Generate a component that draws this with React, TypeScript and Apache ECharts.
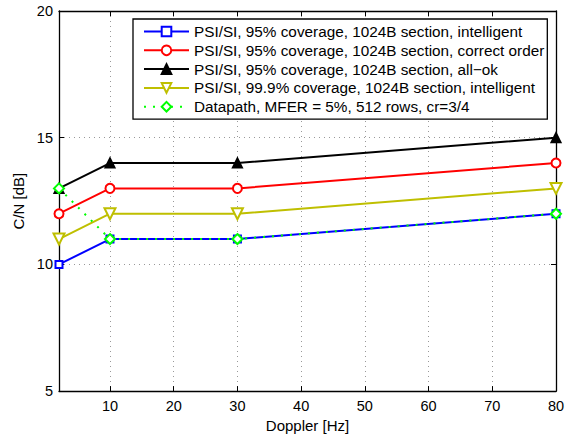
import React, { useEffect, useRef } from "react";
import * as echarts from "echarts";

const doppler = [2, 10, 30, 80];
const psi95Intelligent = [10, 11, 11, 12];
const psi95CorrectOrder = [12, 13, 13, 14];
const psi95AllOk = [13, 14, 14, 15];
const psi999Intelligent = [11, 12, 12, 13];
const datapath = [13, 11, 11, 12];
const xTickValues = [10, 20, 30, 40, 50, 60, 70, 80];
const xMin = 2;
const xMax = 80;
const yMin = 5;
const yMax = 20;
const yInterval = 5;

const seriesNames = [
  "PSI/SI, 95% coverage, 1024B section, intelligent",
  "PSI/SI, 95% coverage, 1024B section, correct order",
  "PSI/SI, 95% coverage, 1024B section, all\u2212ok",
  "PSI/SI, 99.9% coverage, 1024B section, intelligent",
  "Datapath, MFER = 5%, 512 rows, cr=3/4",
];

const FONT = "'Liberation Sans', Arial, Helvetica, sans-serif";

function pairs(ys: number[]) {
  return doppler.map((x, i) => [x, ys[i]]);
}

export default function App() {
  const ref = useRef<HTMLDivElement>(null);
  useEffect(() => {
    if (!ref.current) return;
    const chart = echarts.init(ref.current, undefined, { renderer: "svg" });
    const gridLine = { show: true, lineStyle: { color: "#999", type: [1, 4] as any, width: 1 } };
    const commonAxisLine = { show: true, lineStyle: { color: "#000", width: 1.3 } };
    const mk = (
      name: string,
      ys: number[],
      color: string,
      symbol: string,
      size: number,
      extra: any = {}
    ) => ({
      type: "line",
      name,
      data: pairs(ys),
      symbol,
      symbolSize: size,
      showAllSymbol: true,
      lineStyle: { color, width: 2, type: extra.lineType || "solid" },
      itemStyle: { color: extra.fill || "#fff", borderColor: color, borderWidth: 2 },
      symbolRotate: extra.rotate || 0,
      emphasis: { disabled: true },
      z: extra.z || 2,
    });
    chart.setOption({
      animation: false,
      backgroundColor: "#fff",
      textStyle: { fontFamily: FONT },
      grid: { left: 59, right: 13, top: 11, bottom: 44, containLabel: false },
      legend: {
        orient: "vertical",
        left: 133,
        top: 19,
        padding: [5, 3, 5, 10],
        itemWidth: 45,
        itemHeight: 12,
        itemGap: 3.8,
        backgroundColor: "#fff",
        borderColor: "#000",
        borderWidth: 1.3,
        borderRadius: 0,
        textStyle: { fontFamily: FONT, fontSize: 15.3, color: "#000" },
        data: seriesNames,
        selectedMode: false,
      },
      xAxis: [
        {
          type: "value",
          min: xMin,
          max: xMax,
          name: "Doppler [Hz]",
          nameLocation: "middle",
          nameGap: 21,
          nameTextStyle: { fontFamily: FONT, fontSize: 15, color: "#000" },
          axisLine: commonAxisLine,
          axisTick: { show: true, inside: true, length: 5, customValues: xTickValues, lineStyle: { color: "#000" } },
          axisLabel: { customValues: xTickValues, fontFamily: FONT, fontSize: 14.5, color: "#000", margin: 7 },
          splitLine: gridLine,
        },
        {
          type: "value",
          min: xMin,
          max: xMax,
          position: "top",
          axisLine: commonAxisLine,
          axisTick: { show: true, inside: true, length: 5, customValues: xTickValues, lineStyle: { color: "#000" } },
          axisLabel: { show: false, customValues: xTickValues },
          splitLine: { show: false },
        },
      ],
      yAxis: [
        {
          type: "value",
          min: yMin,
          max: yMax,
          interval: yInterval,
          name: "C/N [dB]",
          nameLocation: "middle",
          nameGap: 25,
          nameTextStyle: { fontFamily: FONT, fontSize: 15, color: "#000" },
          axisLine: commonAxisLine,
          axisTick: { show: true, inside: true, length: 5, lineStyle: { color: "#000" } },
          axisLabel: { fontFamily: FONT, fontSize: 14.5, color: "#000", margin: 6 },
          splitLine: gridLine,
        },
        {
          type: "value",
          min: yMin,
          max: yMax,
          interval: yInterval,
          position: "right",
          axisLine: commonAxisLine,
          axisTick: { show: true, inside: true, length: 5, lineStyle: { color: "#000" } },
          axisLabel: { show: false },
          splitLine: { show: false },
        },
      ],
      series: [
        mk(seriesNames[0], psi95Intelligent, "#0000ff", "rect", 7, { z: 2 }),
        mk(seriesNames[1], psi95CorrectOrder, "#ff0000", "circle", 9, { z: 3 }),
        mk(seriesNames[2], psi95AllOk, "#000000", "triangle", 9, { z: 4, fill: "#000" }),
        mk(seriesNames[3], psi999Intelligent, "#bfbf00", "triangle", 11, { z: 5, rotate: 180 }),
        mk(seriesNames[4], datapath, "#00ff00", "diamond", 10, { z: 6, lineType: [2, 7] }),
      ],
    });
    return () => chart.dispose();
  }, []);
  return <div ref={ref} style={{ width: 569, height: 438, position: "absolute", left: 0, top: 0 }} />;
}
